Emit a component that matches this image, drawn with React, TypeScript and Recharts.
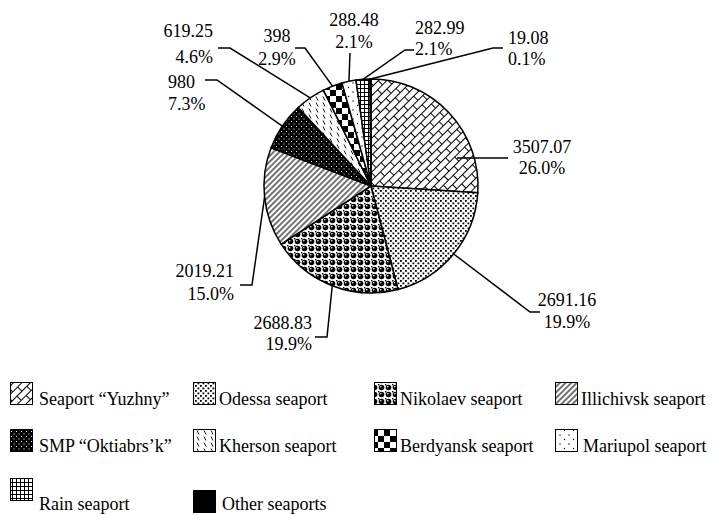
import { PieChart, Pie, Cell, Legend } from "recharts";

const ports = [
  "Seaport “Yuzhny”",
  "Odessa seaport",
  "Nikolaev seaport",
  "Illichivsk seaport",
  "SMP “Oktiabrs’k”",
  "Kherson seaport",
  "Berdyansk seaport",
  "Mariupol seaport",
  "Rain seaport",
  "Other seaports",
];
const volumes = [3507.07, 2691.16, 2688.83, 2019.21, 980, 619.25, 398, 288.48, 282.99, 19.08];

const data = ports.map((name, i) => ({ name, value: volumes[i] }));

// label placement, offsets from the pie centre
type LabelPos = {
  from?: [number, number];
  elbow: [number, number];
  end: [number, number];
  tx: number;
  ty: [number, number];
  anchor: "start" | "middle" | "end";
};
const labelPos: LabelPos[] = [
  { from: [86, -28], elbow: [86, -28], end: [137, -28], tx: 171, ty: [-33, -12], anchor: "middle" },
  { elbow: [159, 126], end: [169, 126], tx: 196, ty: [120, 142], anchor: "middle" },
  { elbow: [-44, 151], end: [-56, 151], tx: -59, ty: [143, 164], anchor: "end" },
  { elbow: [-119, 99], end: [-131, 99], tx: -137, ty: [91, 114], anchor: "end" },
  { elbow: [-154, -106], end: [-166, -106], tx: -203, ty: [-98, -76], anchor: "start" },
  { elbow: [-141, -138], end: [-153, -138], tx: -158, ty: [-149, -123], anchor: "end" },
  { elbow: [-66, -138], end: [-76, -138], tx: -94, ty: [-144, -121], anchor: "middle" },
  { elbow: [-21, -133], end: [-21, -133], tx: -17, ty: [-160, -138], anchor: "middle" },
  { elbow: [34, -136], end: [43, -136], tx: 44, ty: [-152, -131], anchor: "start" },
  { elbow: [122, -138], end: [132, -138], tx: 137, ty: [-142, -121], anchor: "start" },
];

// legend item placement: [iconX, iconTop, textBaseline, textGap]
const legendPos = [
  [10, 12, 35, 6], [193, 12, 35, 3], [374, 12, 35, 3], [555, 12, 35, 3],
  [10, 59, 82, 6], [193, 59, 82, 3], [374, 59, 82, 3], [555, 59, 82, 5],
  [10, 108, 140, 6], [193, 120, 140, 6],
];

const FONT = "'Liberation Serif', 'Times New Roman', serif";
const RAD = Math.PI / 180;

function Patterns() {
  return (
    <svg width={0} height={0} style={{ position: "absolute" }}>
      <defs>
        <pattern id="p0" width="14" height="12" patternUnits="userSpaceOnUse" patternTransform="rotate(-45)">
          <rect width="14" height="12" fill="#fff" />
          <path d="M0 0.5H14M0 6.5H14M0.5 0.5V6.5M7.5 6.5V12.5" stroke="#000" strokeWidth="1" fill="none" />
        </pattern>
        <pattern id="p1" width="5" height="5" patternUnits="userSpaceOnUse">
          <rect width="5" height="5" fill="#fff" />
          <rect x="0" y="0" width="1.8" height="1.8" fill="#000" />
          <rect x="2.5" y="2.5" width="1.8" height="1.8" fill="#000" />
        </pattern>
        <pattern id="p2" width="7" height="7" patternUnits="userSpaceOnUse">
          <rect width="7" height="7" fill="#fff" />
          <rect x="0" y="0" width="1.4" height="1.4" fill="#000" />
          <circle cx="3.5" cy="3.5" r="2.8" fill="#000" />
          <circle cx="2.8" cy="2.8" r="0.8" fill="#fff" />
        </pattern>
        <pattern id="p3" width="4" height="4" patternUnits="userSpaceOnUse" patternTransform="rotate(45)">
          <rect width="4" height="4" fill="#fff" />
          <path d="M1 0V4" stroke="#000" strokeWidth="1.1" />
        </pattern>
        <pattern id="p4" width="5" height="5" patternUnits="userSpaceOnUse">
          <rect width="5" height="5" fill="#000" />
          <rect x="1" y="1" width="1" height="1" fill="#fff" />
          <rect x="3.5" y="3.5" width="1" height="1" fill="#fff" />
        </pattern>
        <pattern id="p5" width="7" height="6" patternUnits="userSpaceOnUse">
          <rect width="7" height="6" fill="#fff" />
          <path d="M1 0.5L3 4.5" stroke="#000" strokeWidth="0.9" />
        </pattern>
        <pattern id="p6" width="12" height="12" patternUnits="userSpaceOnUse">
          <rect width="12" height="12" fill="#fff" />
          <rect x="0" y="0" width="6" height="6" fill="#000" />
          <rect x="6" y="6" width="6" height="6" fill="#000" />
        </pattern>
        <pattern id="p7" width="9" height="9" patternUnits="userSpaceOnUse">
          <rect width="9" height="9" fill="#fff" />
          <circle cx="2" cy="2" r="0.7" fill="#000" />
          <circle cx="6.5" cy="6.5" r="0.7" fill="#000" />
        </pattern>
        <pattern id="p8" width="4" height="4" patternUnits="userSpaceOnUse">
          <rect width="4" height="4" fill="#fff" />
          <path d="M0 0.5H4M0.5 0V4" stroke="#000" strokeWidth="1" />
        </pattern>
        <pattern id="p9" width="4" height="4" patternUnits="userSpaceOnUse">
          <rect width="4" height="4" fill="#000" />
        </pattern>
      </defs>
    </svg>
  );
}

const renderLabel = (props: any) => {
  const { cx, cy, midAngle, outerRadius, index, value, percent } = props;
  const L = labelPos[index];
  const sx = L.from ? cx + L.from[0] : cx + outerRadius * Math.cos(-midAngle * RAD);
  const sy = L.from ? cy + L.from[1] : cy + outerRadius * Math.sin(-midAngle * RAD);
  const pts = `${sx},${sy} ${cx + L.elbow[0]},${cy + L.elbow[1]} ${cx + L.end[0]},${cy + L.end[1]}`;
  return (
    <g key={`lbl-${index}`}>
      <polyline points={pts} fill="none" stroke="#000" strokeWidth={1.5} />
      <text x={cx + L.tx} y={cy + L.ty[0]} textAnchor={L.anchor} fontSize={18} fontFamily={FONT} fill="#000">
        {String(value)}
      </text>
      <text x={cx + L.tx} y={cy + L.ty[1]} textAnchor={L.anchor} fontSize={18} fontFamily={FONT} fill="#000">
        {(percent * 100).toFixed(1)}%
      </text>
    </g>
  );
};

const renderLegend = (props: any) => {
  const payload = props.payload || [];
  return (
    <svg width={716} height={145} style={{ display: "block" }}>
      {payload.map((entry: any) => {
        const i = ports.indexOf(entry.value);
        if (i < 0) return null;
        const [x, top, base, gap] = legendPos[i];
        return (
          <g key={entry.value}>
            <rect x={x + 0.5} y={top + 0.5} width={22} height={22} fill={`url(#p${i})`} stroke="#000" strokeWidth={1} />
            <text x={x + 23 + gap} y={base} fontSize={18} fontFamily={FONT} fill="#000">
              {entry.value}
            </text>
          </g>
        );
      })}
    </svg>
  );
};

export default function App() {
  return (
    <div style={{ position: "absolute", left: 0, top: 0, width: 716, height: 515, background: "#fff" }}>
      <Patterns />
      <PieChart width={716} height={515} margin={{ top: 0, right: 0, bottom: 0, left: 0 }}>
        <Pie
          data={data}
          dataKey="value"
          nameKey="name"
          cx={371}
          cy={186}
          outerRadius={107}
          startAngle={90}
          endAngle={-270}
          stroke="#000"
          strokeWidth={1.5}
          label={renderLabel}
          labelLine={false}
          isAnimationActive={false}
        >
          {data.map((d, i) => (
            <Cell key={d.name} fill={`url(#p${i})`} />
          ))}
        </Pie>
        <Legend content={renderLegend} wrapperStyle={{ left: 0, top: 370, width: 716, height: 145 }} />
      </PieChart>
    </div>
  );
}
